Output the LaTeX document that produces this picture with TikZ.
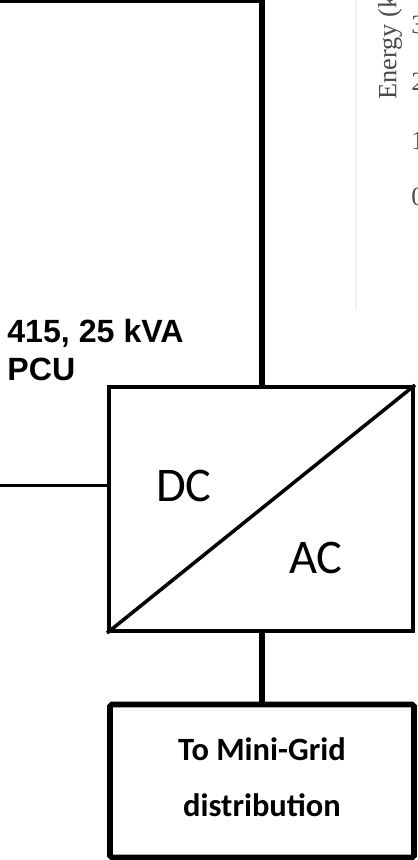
\documentclass[tikz,border=0pt]{standalone}
\usepackage{fontspec}
\setmainfont{Carlito}
\newfontfamily\labelfont{Liberation Sans}
\newfontfamily\plotfont{Liberation Serif}
\usetikzlibrary{positioning,calc}
\definecolor{PlotInk}{HTML}{4A4A4A}
\definecolor{PlotRule}{HTML}{F0F0F0}

\begin{document}
\begin{tikzpicture}[
  x=0.02cm, y=-0.02cm,
  unit/.style={draw=black, line width=2.3pt, fill=white, minimum width=6.08cm,
               inner sep=0pt, align=center},
  wire/.style={line width=3.2pt, draw=black},
  tick/.style={text=PlotInk, font=\plotfont\fontsize{15}{17}\selectfont, inner sep=0pt},
  conv/.style={font=\fontsize{27.5}{30}\selectfont}
]
\useasboundingbox (0,0) rectangle (418,860);
\draw[PlotRule, line width=0.6pt] (356,0) -- (356,310);
\node[tick, rotate=90, anchor=west] (axis) at (390,100) {Energy (k};
\node[tick, anchor=west] (t3) at (411,25) {3};
\node[tick, anchor=west] (t2) at (411,82) {2};
\node[tick, anchor=west] (t1) at (411,141) {1};
\node[tick, anchor=west] (t0) at (411,197) {0};
\node[unit, minimum height=3.06cm, line width=3.2pt, rounded corners=1pt, text depth=4.5pt,
      font=\bfseries\fontsize{18.5}{31.7}\selectfont] (grid) at (262,781)
  {To Mini-Grid\\distribution};
\node[unit, minimum height=4.88cm] (pcu) at (261,509) {};
\draw[line width=2pt] (pcu.south west) -- (pcu.north east);
\node[conv] (dc) at (184,486) {DC};
\node[conv] (ac) at (316,558) {AC};
\node[font=\labelfont\bfseries\fontsize{18.3}{21.5}\selectfont, align=left, anchor=north west,
      inner sep=0pt] (rating) at (7,319) {415, 25 kVA\\PCU};
\coordinate (feed) at (0,0.5);
\coordinate (dcin) at (0,485.5);
\draw[wire] (feed) -| (pcu.north -| grid.north);
\draw[wire, line width=2.2pt] (dcin) -- (pcu.west |- dcin);
\draw[wire] (pcu.south -| grid.north) -- (grid.north);
\end{tikzpicture}
\end{document}
